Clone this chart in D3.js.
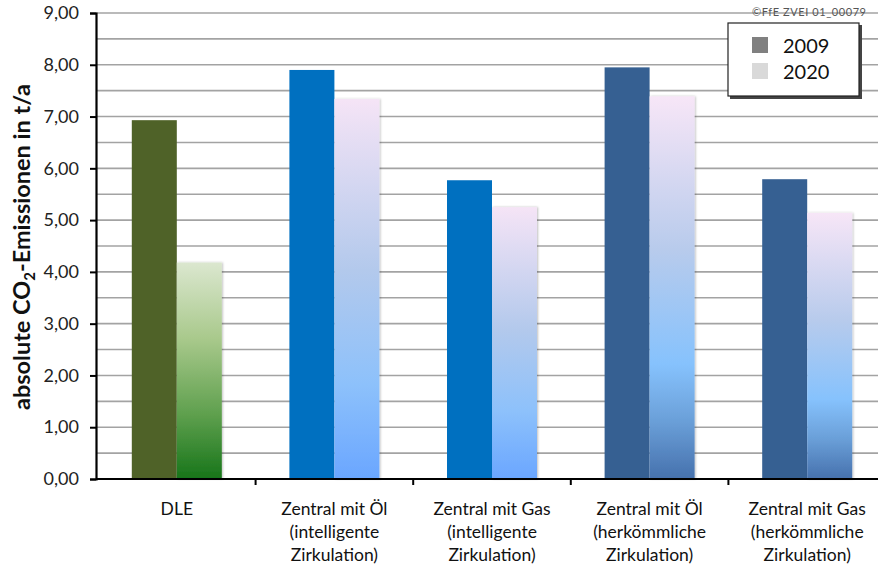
<!DOCTYPE html>
<html>
<head>
<meta charset="utf-8">
<script src="https://cdn.jsdelivr.net/npm/d3@7"></script>
<style>
  html, body { margin: 0; padding: 0; background: #fff; }
  svg { display: block; font-family: Lato, "Open Sans", sans-serif; }
</style>
</head>
<body>
<svg id="chart" width="878" height="571"></svg>
<script>
// Categories (multi-line labels) and CO2 emissions per series
const categories = [
  ["DLE"],
  ["Zentral mit Öl", "(intelligente", "Zirkulation)"],
  ["Zentral mit Gas", "(intelligente", "Zirkulation)"],
  ["Zentral mit Öl", "(herkömmliche", "Zirkulation)"],
  ["Zentral mit Gas", "(herkömmliche", "Zirkulation)"]
];
const series = ["2009", "2020"];
const values2009 = [6.93, 7.90, 5.77, 7.95, 5.79];
const values2020 = [4.18, 7.34, 5.25, 7.39, 5.14];
const yTicks = [0, 1, 2, 3, 4, 5, 6, 7, 8, 9];
const yGrid = [0.5, 1, 1.5, 2, 2.5, 3, 3.5, 4, 4.5, 5, 5.5, 6, 6.5, 7, 7.5, 8, 8.5, 9];

// Colour scheme per category group: solid 2009 fill, gradient id for 2020
const solid2009 = ["#4f6228", "#0070c0", "#0070c0", "#366092", "#366092"];
const grad2020 = ["gGreen", "gBlueA", "gBlueA", "gBlueB", "gBlueB"];

const svg = d3.select("#chart");
const x = d3.scaleBand().domain(d3.range(categories.length)).range([98, 886]);
const y = d3.scaleLinear().domain([0, 9]).range([479, 13]);
const barW = 45;

// Gradients
const defs = svg.append("defs");
function lin(id, stops) {
  const g = defs.append("linearGradient").attr("id", id).attr("x1", 0).attr("y1", 0).attr("x2", 0).attr("y2", 1);
  stops.forEach(s => g.append("stop").attr("offset", s[0]).attr("stop-color", s[1]));
}
lin("gGreen", [[0, "#dbe7cf"], [0.35, "#a9c98c"], [0.7, "#5fa04e"], [1, "#17751a"]]);
lin("gBlueA", [[0, "#f5e4f6"], [0.45, "#b3c9ec"], [0.75, "#8dc1fb"], [1, "#6aa6ff"]]);
lin("gBlueB", [[0, "#f7e6f7"], [0.4, "#b8cbec"], [0.7, "#86c2fd"], [0.85, "#6a9fd8"], [1, "#4671ad"]]);

const shadow = defs.append("filter").attr("id", "soft").attr("x", "-10%").attr("y", "-10%").attr("width", "130%").attr("height", "120%");
shadow.append("feDropShadow").attr("dx", 1).attr("dy", 0).attr("stdDeviation", 1.2).attr("flood-color", "#000").attr("flood-opacity", 0.25);

// Horizontal gridlines
svg.append("g").selectAll("line").data(yGrid).join("line")
  .attr("x1", 96).attr("x2", 878)
  .attr("y1", d => y(d)).attr("y2", d => y(d))
  .attr("stroke", "#a3a3a3").attr("stroke-width", 1.6);

// Bars
const groups = svg.append("g").selectAll("g").data(categories).join("g");
groups.append("rect")
  .attr("x", (d, i) => x(i) + x.bandwidth() / 2 - barW)
  .attr("width", barW)
  .attr("y", (d, i) => y(values2009[i]))
  .attr("height", (d, i) => y(0) - y(values2009[i]))
  .attr("fill", (d, i) => solid2009[i]);
groups.append("rect")
  .attr("x", (d, i) => x(i) + x.bandwidth() / 2)
  .attr("width", barW)
  .attr("y", (d, i) => y(values2020[i]))
  .attr("height", (d, i) => y(0) - y(values2020[i]))
  .attr("fill", (d, i) => `url(#${grad2020[i]})`)
  .attr("filter", "url(#soft)");

// Y axis
const yAxis = d3.axisLeft(y).tickValues(yTicks).tickSize(6).tickPadding(11)
  .tickFormat(d => d3.format(".2f")(d).replace(".", ","));
const gy = svg.append("g").attr("transform", "translate(96,0)").call(yAxis);
gy.select(".domain").attr("stroke", "#000").attr("stroke-width", 2.2);
gy.selectAll(".tick line").attr("stroke", "#000").attr("stroke-width", 2);
gy.selectAll(".tick text").attr("font-size", 18).attr("fill", "#222").attr("font-family", "Lato, sans-serif");

// X axis
const xAxis = d3.axisBottom(x).tickSize(0).tickFormat("");
const gx = svg.append("g").attr("transform", `translate(0,${y(0)})`).call(xAxis);
gx.select(".domain").attr("d", "M96,0H878").attr("stroke", "#000").attr("stroke-width", 2.2);
gx.selectAll(".boundary").data(d3.range(1, categories.length)).join("line")
  .attr("class", "boundary")
  .attr("x1", i => x(i)).attr("x2", i => x(i))
  .attr("y1", 0).attr("y2", 6)
  .attr("stroke", "#000").attr("stroke-width", 2);

// Category labels
const lbl = svg.append("g").selectAll("text").data(categories).join("text")
  .attr("text-anchor", "middle")
  .attr("font-size", 17.5)
  .attr("fill", "#111")
  .attr("transform", (d, i) => `translate(${x(i) + x.bandwidth() / 2},${515})`);
lbl.selectAll("tspan").data(d => d).join("tspan")
  .attr("x", 0).attr("dy", (d, j) => j === 0 ? 0 : 23)
  .text(d => d);

// Y axis title
const title = svg.append("text")
  .attr("transform", "translate(30,247) rotate(-90)")
  .attr("text-anchor", "middle")
  .attr("font-size", 23.5).attr("font-weight", "bold").attr("fill", "#111");
title.append("tspan").text("absolute CO");
title.append("tspan").attr("font-size", 15).attr("dy", 5).text("2");
title.append("tspan").attr("dy", -5).text("-Emissionen in t/a");

// Copyright note
svg.append("text").attr("x", 866).attr("y", 16).attr("text-anchor", "end")
  .attr("font-size", 11).attr("fill", "#555").attr("textLength", 114)
  .text("©FfE ZVEI 01_00079");

// Legend
const leg = svg.append("g").attr("transform", "translate(728,23)");
leg.append("rect").attr("x", 2).attr("y", 2).attr("width", 132).attr("height", 74).attr("fill", "#444");
leg.append("rect").attr("width", 131).attr("height", 73).attr("fill", "#fff").attr("stroke", "#222").attr("stroke-width", 1.2);
const legColors = ["#808080", "#d9d9d9"];
series.forEach((s, i) => {
  leg.append("rect").attr("x", 24).attr("y", 14 + i * 26).attr("width", 16).attr("height", 16).attr("fill", legColors[i]);
  leg.append("text").attr("x", 55).attr("y", 30 + i * 26).attr("font-size", 20).attr("fill", "#111").text(s);
});
</script>
</body>
</html>
